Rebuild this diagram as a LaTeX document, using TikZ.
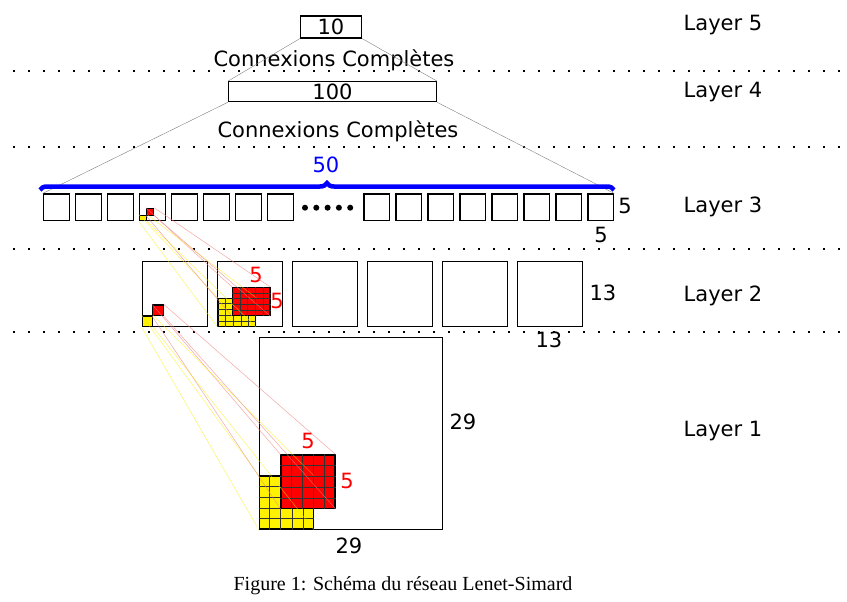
\documentclass[tikz,border=0pt]{standalone}
\usepackage{fontspec}
\setmainfont{DejaVu Sans}
\newfontfamily\capfont{Liberation Serif}
\usetikzlibrary{calc,decorations.pathreplacing}
\definecolor{linkred}{HTML}{f08080}
\definecolor{linkyellow}{HTML}{f5f000}

% grid of 5x5 cells inside a node
\newcommand{\cellgrid}[1]{%
  \foreach \k in {1,...,4}{%
    \draw[gridline] ($(#1.north west)!\k/5!(#1.north east)$) -- ($(#1.south west)!\k/5!(#1.south east)$);
    \draw[gridline] ($(#1.north west)!\k/5!(#1.south west)$) -- ($(#1.north east)!\k/5!(#1.south east)$);
  }}

\begin{document}
\begin{tikzpicture}[x=1pt, y=-1pt, font=\fontsize{21}{25}\selectfont,
    box/.style={draw, line width=1.1pt, rectangle, inner sep=0pt},
    gridline/.style={line width=0.6pt, black!80},
    yfield/.style={box, fill=yellow},
    rfield/.style={box, fill=red},
    sepline/.style={line width=1.8pt, dash pattern=on 1.8pt off 13.2pt},
    fullline/.style={line width=0.4pt, black!50},
    redlink/.style={line width=0.5pt, linkred, opacity=0.7},
    yellowlink/.style={line width=0.5pt, linkyellow, opacity=0.6}]
        \useasboundingbox (0,0) rectangle (847,602);

        % Separators
        \draw[sepline] (13,71) -- (847,71);
        \draw[sepline] (13,147) -- (847,147);
        \draw[sepline] (13,249) -- (847,249);
        \draw[sepline] (13,332) -- (847,332);

        % Layer 5 and 4
        \node[box, minimum width=61pt, minimum height=22pt] (out) at (331,27) {10};
        \node[box, minimum width=208pt, minimum height=20pt] (hid) at (332.5,91.7) {100};
        \node (cc1) at (334,60) {Connexions Complètes};
        \node (cc2) at (338,131) {Connexions Complètes};

        % Layer 3 maps
        \foreach \i in {1,...,8}
            \node[box, minimum width=25.7pt, minimum height=26.7pt] (s\i) at (56.2+32*\i-32,207.3) {};
        \foreach \i in {9,...,16}
            \node[box, minimum width=25.7pt, minimum height=26.7pt] (s\i) at (376.8+32*\i-288,207.3) {};
        \foreach \d in {0,...,4}
            \fill (305+11.3*\d,207.7) circle (3pt);
        \node (n3a) at (625,206) {5};
        \node (n3b) at (601,235) {5};

        % Layer 2 maps
        \foreach \i in {1,...,6}
            \node[box, minimum size=65pt] (m\i) at (174.8+75*\i-75,294.2) {};
        \node (n2a) at (603,293) {13};
        \node (n2b) at (549,340) {13};

        % Layer 1 input
        \node[box, minimum width=182.7pt, minimum height=191.7pt] (inp) at (350.7,433.2) {};
        \node (n1a) at (463,422) {29};
        \node (n1b) at (349,546) {29};

        % Small units
        \node[yfield, minimum width=7.2pt, minimum height=5.7pt] (ya) at (142.9,217.9) {};
        \node[rfield, minimum width=7.2pt, minimum height=6.7pt] (ra) at (150.1,211.7) {};
        \node[yfield, minimum width=10.4pt, minimum height=10.7pt] (yb) at (147.5,321.35) {};
        \node[rfield, minimum width=10.6pt, minimum height=10.7pt] (rb) at (158,310.35) {};

        % Receptive fields in layer 2
        \node[yfield, minimum width=37.4pt, minimum height=28.4pt] (yg2) at (237,312.5) {};
        \cellgrid{yg2}
        \node[rfield, minimum width=37.3pt, minimum height=28pt] (rg2) at (251.35,301.7) {};
        \cellgrid{rg2}
        \node[red] (k2a) at (256,275) {5};
        \node[red] (k2b) at (277,301) {5};

        % Receptive fields in layer 1
        \node[yfield, minimum width=54pt, minimum height=53pt] (yg1) at (286.3,502.5) {};
        \cellgrid{yg1}
        \node[rfield, minimum width=54pt, minimum height=53.3pt] (rg1) at (308,481.65) {};
        \cellgrid{rg1}
        \node[red] (k1a) at (308,441) {5};
        \node[red] (k1b) at (347,481) {5};

        % Full connections
        \draw[fullline] (out.south west) -- (hid.north west);
        \draw[fullline] (out.south east) -- (hid.north east);
        \draw[fullline] (hid.south west) -- (s1.north west);
        \draw[fullline] (hid.south east) -- (s16.north east);

        % Brace over layer 3
        \draw[blue, line width=4.5pt, decorate, decoration={brace, amplitude=7pt}] (40,190) -- (614,190);
        \node[blue] (nb) at (326,165) {50};

        % Local connections
        \foreach \c in {north west, north east, south west, south east} {
            \draw[yellowlink] (ya.\c) -- (yg2.\c);
            \draw[redlink] (ra.\c) -- (rg2.\c);
            \draw[yellowlink] (yb.\c) -- (yg1.\c);
            \draw[redlink] (rb.\c) -- (rg1.\c);
        }

        % Layer names
        \node (L5) at (723,25) {Layer 5};
        \node (L4) at (723,92) {Layer 4};
        \node (L3) at (723,207) {Layer 3};
        \node (L2) at (723,296) {Layer 2};
        \node (L1) at (723,431) {Layer 1};

        % Caption
        \node[font=\capfont\fontsize{20}{24}\selectfont] (cap) at (403,586) {Figure 1: Schéma du réseau Lenet-Simard};
\end{tikzpicture}
\end{document}
